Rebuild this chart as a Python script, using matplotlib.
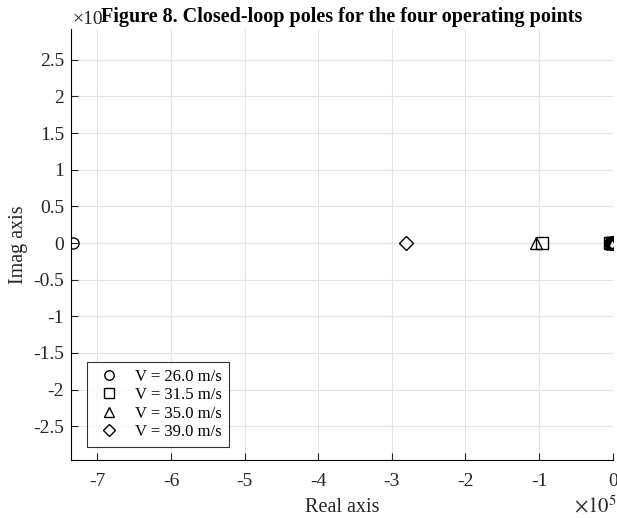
import matplotlib.pyplot as plt
from matplotlib.ticker import FuncFormatter, MultipleLocator
import numpy as np

plt.rcParams['font.family'] = ['Liberation Serif', 'DejaVu Serif']
plt.rcParams['mathtext.fontset'] = 'stix'
plt.rcParams['axes.unicode_minus'] = False

# closed-loop poles (real, imag) for each operating point
etiquetas = ["V = 26.0 m/s", "V = 31.5 m/s", "V = 35.0 m/s", "V = 39.0 m/s"]
marcadores = ["o", "s", "^", "D"]
polos_re = [
    [-7.33e5, -3200.0, -1400.0, -600.0, -150.0],
    [-0.96e5, -3000.0, -1300.0, -500.0, -120.0],
    [-1.04e5, -2800.0, -1200.0, -450.0, -100.0],
    [-2.81e5, -2600.0, -1100.0, -400.0, -80.0],
]
polos_im = [
    [0.0, 0.0, 0.0, 0.0, 0.0],
    [0.0, 0.0, 0.0, 0.0, 0.0],
    [0.0, 0.0, 0.0, 0.0, 0.0],
    [0.0, 0.0, 0.0, 0.0, 0.0],
]

W, H = 617, 518
fig = plt.figure(figsize=(W / 100, H / 100), dpi=100)
ax = fig.add_axes([71 / W, 1 - 460 / H, 542 / W, 431 / H])

for re, im, m, lab in zip(polos_re, polos_im, marcadores, etiquetas):
    ms = 7 if m == "D" else 8
    ax.plot(re, im, linestyle="none", marker=m, markersize=ms,
            markerfacecolor="none", markeredgecolor="black",
            markeredgewidth=1.0, label=lab)

ax.set_xlim(-7.36e5, 0.005e5)
ax.set_ylim(-2.96e5, 2.92e5)
ax.xaxis.set_major_locator(MultipleLocator(1e5))
ax.set_yticks(np.arange(-2.5e5, 2.51e5, 0.5e5))

fmt = FuncFormatter(lambda v, p: ("%g" % round(v / 1e5, 2)))
ax.xaxis.set_major_formatter(fmt)
ax.yaxis.set_major_formatter(fmt)

ax.grid(True, color="#e3e3e3", linewidth=0.8)
ax.set_axisbelow(True)
ax.spines["top"].set_visible(False)
ax.spines["right"].set_visible(False)
ax.tick_params(direction="in", length=5, width=0.8, labelsize=14, colors="#262626")
ax.tick_params(axis="x", pad=9)
ax.tick_params(axis="y", pad=5)

ax.set_xlabel("Real axis", fontsize=14.5, color="#262626", labelpad=6)
ax.set_ylabel("Imag axis", fontsize=14.5, color="#262626", labelpad=4)
ax.set_title("Figure 8. Closed-loop poles for the four operating points",
             fontsize=14.5, fontweight="bold", pad=5)

fig.text(72 / W, 1 - 19 / H, "\u00d710", fontsize=14, color="#262626",
         ha="left", va="center")
fig.text(1.0, 1 - 507 / H, "$\\times10^{5}$", fontsize=15, color="#262626",
         ha="right", va="center")

leg = ax.legend(loc="upper left", bbox_to_anchor=(87 / W, 1 - 362 / H),
                bbox_transform=fig.transFigure, borderaxespad=0,
                fontsize=12, frameon=True, fancybox=False, edgecolor="black",
                handletextpad=0.7, borderpad=0.4, labelspacing=0.15,
                handlelength=1.8, markerscale=0.85)
leg.get_frame().set_linewidth(0.8)

fig.savefig("out.png", dpi=100)
